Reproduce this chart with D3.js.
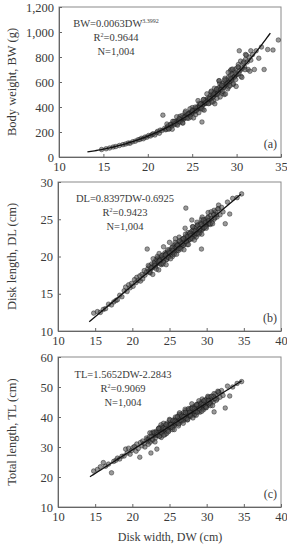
<!DOCTYPE html>
<html>
<head>
<meta charset="utf-8">
<script src="https://cdn.jsdelivr.net/npm/d3@7"></script>
<style>
  body { margin: 0; background: #fff; }
  text { font-family: "Liberation Serif", "Times New Roman", serif; fill: #3a3a3a; }
</style>
</head>
<body>
<script>
// Disk width of each fish (cm)
var dw = [
  14.8, 15.3, 15.7, 16.1, 16.4, 16.8, 17.2, 17.5, 17.8, 18.0, 18.3, 18.6, 18.9, 19.1, 19.3, 19.5,
  19.7, 19.9, 20.1, 20.3, 20.5, 20.6, 20.8, 21.0, 21.1, 21.3, 21.4, 21.6, 21.7, 21.9,
  22.0, 22.1, 22.2, 22.3, 22.5, 22.6, 22.7, 22.9,
  23.0, 23.1, 23.2, 23.3, 23.4, 23.5, 23.6, 23.7, 23.8, 23.9,
  24.0, 24.1, 24.2, 24.3, 24.4, 24.5, 24.6, 24.7, 24.8, 24.9,
  25.0, 25.1, 25.2, 25.3, 25.4, 25.5, 25.6, 25.7, 25.8, 25.9,
  26.0, 26.1, 26.2, 26.3, 26.4, 26.5, 26.6, 26.7, 26.8, 26.9,
  27.0, 27.1, 27.2, 27.3, 27.4, 27.5, 27.6, 27.7, 27.8, 27.9,
  28.0, 28.1, 28.2, 28.3, 28.4, 28.5, 28.6, 28.7, 28.8, 28.9,
  29.0, 29.1, 29.2, 29.3, 29.4, 29.5, 29.6, 29.7, 29.8, 29.9,
  30.0, 30.2, 30.3, 30.5, 30.7, 30.9, 31.0, 31.2, 31.4, 31.6, 31.8,
  32.0, 32.2, 32.5, 32.8, 33.1, 33.5, 34.1, 34.7,
  23.15, 23.45, 23.75, 24.05, 24.35, 24.65, 24.95, 25.25, 25.55, 25.85, 26.15, 26.45, 26.75, 27.05,
  27.35, 27.65, 27.95, 28.25, 28.55, 28.85, 29.15, 29.45, 29.75, 30.05, 30.35, 30.65,
  26.3, 26.9, 27.5, 27.8, 28.1, 28.4, 28.7, 29.0, 29.3, 29.6, 29.9, 30.2, 25.0, 25.4, 25.8, 26.2,
  24.2, 24.6, 23.6, 23.9, 22.8, 22.4, 27.1, 27.4, 28.0, 28.6, 29.1, 29.4, 30.5, 31.0, 31.3, 31.6,
  22.15, 22.35, 22.55, 22.75, 22.95, 23.05, 23.25, 23.35, 23.55, 23.65, 23.85, 23.95,
  24.15, 24.25, 24.45, 24.55, 24.75, 24.85, 25.05, 25.15, 25.35, 25.45, 25.65, 25.75,
  25.95, 26.05, 26.25, 26.35, 26.55, 26.65, 26.85, 26.95, 27.15, 27.25, 27.45, 27.55,
  27.75, 27.85, 28.05, 28.15, 28.35, 28.45, 28.65, 28.75, 28.95, 29.05, 29.25, 29.35,
  29.55, 29.65, 29.85, 29.95, 30.15, 30.25, 30.45, 30.6, 30.8, 30.95, 31.1, 31.5
];

// Body weight (g)
var bw = [
  60, 66, 72, 80, 84, 92, 99, 104, 112, 110, 122, 127, 138, 140, 150, 146,
  160, 158, 172, 168, 180, 186, 176, 195, 205, 190, 215, 212, 335, 230,
  218, 222, 240, 250, 236, 262, 248, 270,
  258, 285, 275, 262, 295, 282, 300, 290, 310, 296,
  322, 305, 330, 315, 340, 328, 350, 335, 360, 345,
  372, 355, 380, 365, 392, 375, 400, 385, 412, 395,
  425, 280, 418, 440, 425, 455, 430, 465, 448, 480,
  460, 495, 470, 505, 485, 520, 498, 535, 510, 550,
  525, 560, 540, 575, 552, 590, 565, 610, 580, 620,
  595, 640, 605, 655, 620, 668, 632, 690, 645, 705,
  660, 720, 850, 700, 750, 720, 780, 760, 800, 775, 820,
  700, 850, 790, 880, 700, 860, 856, 936,
  272, 286, 300, 318, 330, 345, 362, 372, 390, 402, 418, 432, 450, 466,
  482, 500, 518, 538, 556, 575, 596, 615, 640, 662, 688, 712,
  460, 430, 550, 470, 590, 510, 630, 545, 690, 580, 620, 740, 395, 340, 430, 380,
  355, 310, 325, 275, 285, 225, 520, 445, 610, 500, 560, 700, 645, 820, 700, 850,
  264, 224, 258, 222, 285, 265, 322, 255, 306, 280, 331, 271,
  317, 367, 311, 342, 386, 321, 370, 313, 400, 371, 451, 355,
  424, 389, 459, 375, 437, 505, 427, 468, 527, 439, 504, 426,
  543, 504, 610, 480, 573, 525, 617, 504, 586, 676, 571, 626,
  703, 585, 670, 565, 720, 667, 767, 637, 760, 699, 815, 686
];

// Disk length (cm)
var dl = [
  12.4, 12.6, 12.5, 12.9, 13.0, 13.6, 13.5, 13.9, 14.1, 14.2, 14.8, 14.6, 15.4, 15.9, 15.3, 16.2,
  15.8, 16.4, 16.0, 16.9, 16.5, 17.2, 16.8, 17.4, 16.7, 17.6, 17.0, 18.1, 17.5, 17.9,
  21.0, 18.4, 18.0, 18.7, 18.3, 19.0, 18.5, 18.8,
  19.3, 18.6, 19.6, 19.0, 19.8, 19.2, 19.7, 19.5, 19.9, 19.1,
  19.7, 20.2, 19.3, 20.0, 20.5, 20.3, 19.6, 20.6, 19.9, 20.6,
  20.9, 20.1, 20.8, 20.2, 21.3, 20.5, 21.5, 20.6, 21.2, 21.7,
  20.8, 21.6, 21.0, 22.0, 21.2, 21.9, 21.3, 22.3, 21.5, 22.4,
  21.7, 22.6, 26.5, 22.0, 22.9, 22.1, 23.0, 22.3, 23.2, 22.5,
  23.4, 22.6, 23.6, 22.7, 23.8, 22.9, 24.0, 23.1, 24.2, 23.2,
  24.3, 23.4, 24.5, 21.0, 23.6, 24.7, 23.8, 24.9, 24.0, 25.0,
  24.2, 25.3, 24.4, 25.5, 24.6, 25.8, 25.0, 26.0, 25.3, 26.4, 25.6,
  26.6, 26.0, 24.4, 27.3, 25.7, 27.8, 27.9, 28.4,
  19.0, 19.3, 19.6, 19.8, 20.1, 20.4, 20.6, 20.5, 21.0, 21.2, 21.4, 21.6, 21.9, 22.1,
  22.3, 22.6, 22.9, 23.0, 23.3, 23.5, 23.8, 24.1, 24.3, 24.6, 24.8, 25.1,
  22.6, 21.5, 23.2, 22.3, 24.0, 22.9, 24.6, 23.2, 25.0, 23.8, 24.0, 25.9, 21.9, 20.0, 22.4, 20.8,
  21.3, 19.6, 20.4, 18.9, 19.7, 17.8, 23.8, 21.6, 24.9, 22.6, 23.2, 25.3, 24.3, 26.2, 25.6, 26.9,
  18.8, 17.9, 18.5, 17.6, 19.1, 18.8, 18.3, 20.0, 18.2, 19.4, 19.0, 20.1,
  19.0, 19.7, 20.2, 18.9, 20.9, 19.9, 20.5, 19.7, 21.2, 20.8, 20.3, 21.9,
  20.3, 21.5, 21.1, 22.1, 21.0, 21.7, 22.4, 20.9, 23.0, 22.0, 22.7, 21.6,
  23.1, 22.8, 22.4, 24.0, 22.2, 23.4, 23.1, 24.2, 23.0, 23.7, 24.3, 23.0,
  24.9, 23.9, 24.6, 23.8, 25.2, 24.8, 24.4, 26.0, 24.4, 25.6, 25.2, 26.4
];

// Total length (cm)
var tl = [
  22.0, 22.5, 23.4, 24.8, 23.6, 24.3, 21.4, 25.2, 25.6, 26.3, 26.0, 26.9, 27.0, 29.3, 28.0, 29.6,
  27.6, 28.8, 29.8, 30.2, 28.6, 31.0, 29.5, 26.6, 31.5, 30.4, 32.0, 31.2, 30.0, 33.0,
  32.5, 31.8, 32.6, 33.4, 28.0, 34.6, 32.2, 33.9,
  34.5, 33.0, 35.2, 29.3, 34.0, 36.0, 35.0, 33.6, 36.5, 34.8,
  35.7, 37.0, 35.2, 36.3, 34.2, 37.5, 36.0, 38.0, 36.8, 35.4,
  37.6, 38.2, 36.4, 38.0, 36.5, 38.6, 37.0, 39.3, 37.6, 39.0,
  38.0, 40.0, 37.8, 39.5, 40.6, 38.4, 41.0, 38.8, 40.2, 41.5,
  39.4, 40.8, 42.2, 39.6, 41.6, 40.0, 42.4, 40.2, 42.8, 40.8,
  43.0, 41.0, 42.6, 40.6, 43.6, 41.6, 43.8, 41.8, 44.2, 42.0,
  44.6, 42.4, 44.2, 43.0, 45.0, 42.8, 45.4, 43.4, 45.6, 43.6,
  46.0, 44.0, 46.6, 44.6, 47.0, 45.0, 41.7, 47.6, 46.0, 48.4, 46.6,
  48.8, 47.2, 43.0, 50.3, 47.0, 50.0, 51.2, 51.8,
  33.9, 34.6, 35.1, 35.6, 35.9, 36.4, 36.9, 37.5, 37.8, 38.3, 38.6, 39.1, 39.6, 40.0,
  40.5, 41.0, 41.3, 41.9, 42.4, 42.8, 43.4, 43.8, 44.3, 44.8, 45.3, 45.6,
  40.9, 38.8, 42.3, 40.1, 43.3, 40.8, 44.0, 42.0, 44.9, 42.5, 43.2, 46.6, 39.2, 35.8, 40.0, 37.0,
  37.9, 34.5, 36.4, 33.2, 35.0, 31.6, 42.6, 39.0, 44.4, 40.6, 41.6, 46.0, 43.8, 47.8, 45.6, 48.2,
  30.9, 34.7, 33.4, 32.5, 34.8, 31.7, 34.7, 34.1, 36.2, 33.6, 37.4, 34.7,
  36.4, 33.9, 36.2, 37.4, 35.6, 35.1, 38.9, 37.5, 36.6, 38.8, 35.8, 38.6,
  38.1, 40.1, 37.7, 41.4, 38.8, 40.3, 37.9, 40.1, 41.5, 39.5, 39.2, 42.8,
  41.6, 40.5, 42.8, 39.7, 42.7, 42.0, 44.2, 41.6, 45.4, 42.7, 44.4, 41.9,
  44.2, 45.4, 43.5, 43.1, 46.9, 45.5, 44.6, 46.8, 43.8, 46.8, 46.2, 48.6
];

// Fitted equations printed on the panels
var bwFit = [0.0063, 3.3992];        // BW = a * DW^b
var dlFit = [0.8397, -0.6925];       // DL = a * DW + b
var tlFit = [1.5652, -2.2843];       // TL = a * DW + b

var width = 287,
  height = 547;

var svg = d3.select('body')
  .append('svg')
  .attr('width', width)
  .attr('height', height);

var panels = [
  {
    ys: bw, top: 7, bottom: 157, left: 59, xMax: 35,
    yDomain: [0, 1200], yTicks: [0, 200, 400, 600, 800, 1000, 1200], yFmt: d3.format(','),
    xTicks: [10, 15, 20, 25, 30, 35],
    title: 'Body weight, BW (g)', tag: '(a)',
    fit: function(x) { return bwFit[0] * Math.pow(x, bwFit[1]); }, fitRange: [13.2, 33.8],
    eqX: 116, eqY: 23,
    eq: ['BW=0.0063DW', '3.3992'], r2: '=0.9644'
  },
  {
    ys: dl, top: 182, bottom: 331, left: 58, xMax: 40,
    yDomain: [10, 30], yTicks: [10, 15, 20, 25, 30], yFmt: d3.format('d'),
    xTicks: [10, 15, 20, 25, 30, 35, 40],
    title: 'Disk length, DL (cm)', tag: '(b)',
    fit: function(x) { return dlFit[0] * x + dlFit[1]; }, fitRange: [14.2, 34.6],
    eqX: 125, eqY: 198,
    eq: ['DL=0.8397DW-0.6925'], r2: '=0.9423'
  },
  {
    ys: tl, top: 357, bottom: 507, left: 58, xMax: 40,
    yDomain: [10, 60], yTicks: [10, 20, 30, 40, 50, 60], yFmt: d3.format('d'),
    xTicks: [10, 15, 20, 25, 30, 35, 40],
    title: 'Total length, TL (cm)', tag: '(c)',
    fit: function(x) { return tlFit[0] * x + tlFit[1]; }, fitRange: [14.3, 34.7],
    eqX: 123, eqY: 374,
    eq: ['TL=1.5652DW-2.2843'], r2: '=0.9069'
  }
];

var right = 281;

panels.forEach(function(p) {
  var x = d3.scaleLinear().domain([10, p.xMax]).range([p.left, right]);
  var y = d3.scaleLinear().domain(p.yDomain).range([p.bottom, p.top]);
  var g = svg.append('g');

  // frame
  g.append('rect')
    .attr('x', p.left).attr('y', p.top)
    .attr('width', right - p.left).attr('height', p.bottom - p.top)
    .attr('fill', 'none').attr('stroke', '#8a8a8a').attr('stroke-width', 1);

  // axes with small inward ticks
  var xAxis = g.append('g')
    .attr('transform', 'translate(0,' + p.bottom + ')')
    .call(d3.axisBottom(x).tickValues(p.xTicks).tickSizeInner(-3).tickSizeOuter(0).tickPadding(5));
  var yAxis = g.append('g')
    .attr('transform', 'translate(' + p.left + ',0)')
    .call(d3.axisLeft(y).tickValues(p.yTicks).tickFormat(p.yFmt).tickSizeInner(-3).tickSizeOuter(0).tickPadding(5));
  [xAxis, yAxis].forEach(function(a) {
    a.select('.domain').attr('stroke', '#666');
    a.selectAll('line').attr('stroke', '#666');
    a.selectAll('text')
      .attr('fill', '#3a3a3a')
      .style('font-family', '"Liberation Serif", serif')
      .style('font-size', '12.5px');
  });

  // points
  g.append('g').selectAll('circle')
    .data(dw)
    .enter()
    .append('circle')
    .attr('cx', function(d) { return x(d); })
    .attr('cy', function(d, i) { return y(p.ys[i]); })
    .attr('r', 2.3)
    .attr('fill', '#555')
    .attr('fill-opacity', 0.6)
    .attr('stroke', '#111')
    .attr('stroke-opacity', 0.7)
    .attr('stroke-width', 0.6);

  // fitted line
  var fx = d3.range(p.fitRange[0], p.fitRange[1] + 0.001, 0.2);
  g.append('path')
    .datum(fx)
    .attr('fill', 'none')
    .attr('stroke', '#111')
    .attr('stroke-width', 1.3)
    .attr('d', d3.line().x(function(d) { return x(d); }).y(function(d) { return y(p.fit(d)); }));

  // y title
  g.append('text')
    .attr('transform', 'translate(12,' + ((p.top + p.bottom) / 2) + ') rotate(-90)')
    .attr('text-anchor', 'middle')
    .attr('dominant-baseline', 'central')
    .style('font-size', '12.5px')
    .text(p.title);

  // panel tag
  g.append('text')
    .attr('x', 277).attr('y', p.bottom - 9)
    .attr('text-anchor', 'end')
    .style('font-size', '12px')
    .text(p.tag);

  // equation block
  var e = g.append('text')
    .attr('x', p.eqX).attr('y', p.eqY + 4)
    .attr('text-anchor', 'middle')
    .style('font-size', '10.5px');
  e.append('tspan').text(p.eq[0]);
  if (p.eq[1]) {
    e.append('tspan').attr('dy', -4).style('font-size', '6px').text(p.eq[1]);
  }
  var r = g.append('text')
    .attr('x', p.eqX).attr('y', p.eqY + 18)
    .attr('text-anchor', 'middle')
    .style('font-size', '10.5px');
  r.append('tspan').text('R');
  r.append('tspan').attr('dy', -4).style('font-size', '6px').text('2');
  r.append('tspan').attr('dy', 4).text(p.r2);
  g.append('text')
    .attr('x', p.eqX).attr('y', p.eqY + 32)
    .attr('text-anchor', 'middle')
    .style('font-size', '10.5px')
    .text('N=1,004');
});

// shared x title
svg.append('text')
  .attr('x', 170).attr('y', 537)
  .attr('text-anchor', 'middle')
  .attr('dominant-baseline', 'central')
  .style('font-size', '12px')
  .text('Disk width, DW (cm)');
</script>
</body>
</html>
